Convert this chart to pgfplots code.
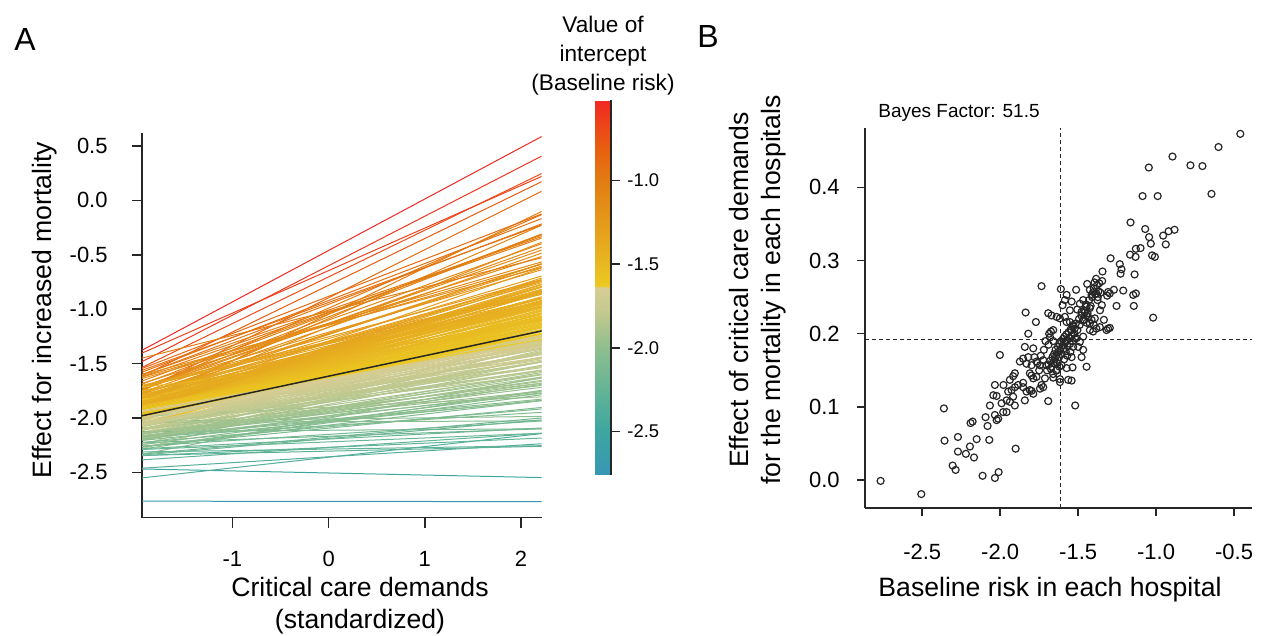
\documentclass[border=0pt]{standalone}
\usepackage{fontspec}
\setmainfont{Liberation Sans}
\usepackage{pgfplots}
\usepackage{pgfplotstable}
\pgfplotsset{compat=1.18}

% one row per hospital: intercept a (baseline risk), slope b (effect of demands)
\pgfplotstableread[row sep=\\]{
a b\\
-0.46 0.473\\ -0.60 0.455\\ -0.895 0.442\\ -1.047 0.427\\ -0.78 0.430\\ -0.703 0.429\\
-1.087 0.388\\ -0.99 0.388\\ -0.645 0.391\\ -1.164 0.352\\ -1.07 0.343\\ -1.045 0.332\\
-0.955 0.334\\ -0.92 0.340\\ -0.882 0.342\\ -0.938 0.322\\ -1.034 0.323\\ -1.10 0.317\\
-1.13 0.316\\ -1.167 0.308\\ -1.132 0.305\\ -1.026 0.307\\ -1.008 0.305\\ -1.292 0.303\\
-1.233 0.295\\ -1.222 0.288\\ -1.228 0.282\\ -1.138 0.281\\ -1.344 0.285\\ -1.346 0.272\\
-1.365 0.269\\ -1.442 0.268\\ -1.513 0.260\\ -1.611 0.261\\ -1.735 0.265\\ -1.425 0.260\\
-1.404 0.257\\ -1.383 0.255\\ -1.414 0.253\\ -1.308 0.257\\ -1.297 0.255\\ -1.271 0.260\\
-1.211 0.259\\ -1.130 0.255\\ -1.143 0.238\\ -1.019 0.222\\ -1.374 0.250\\ -1.357 0.256\\
-1.314 0.252\\ -1.254 0.238\\ -1.147 0.253\\ -1.542 0.244\\ -1.489 0.241\\ -1.468 0.246\\
-1.446 0.237\\ -1.425 0.235\\ -1.506 0.233\\ -1.478 0.230\\ -1.457 0.229\\ -1.446 0.225\\
-1.436 0.223\\ -1.463 0.219\\ -1.446 0.215\\ -1.425 0.214\\ -1.414 0.219\\ -1.399 0.212\\
-1.425 0.205\\ -1.404 0.203\\ -1.383 0.207\\ -1.361 0.209\\ -1.308 0.207\\ -1.318 0.205\\
-1.297 0.208\\ -1.837 0.229\\ -1.771 0.216\\ -1.692 0.228\\ -1.671 0.225\\ -1.638 0.223\\
-1.617 0.221\\ -1.585 0.223\\ -1.574 0.216\\ -1.553 0.216\\ -1.532 0.212\\ -1.522 0.207\\
-1.542 0.205\\ -1.82 0.200\\ -1.675 0.203\\ -1.660 0.205\\ -1.686 0.200\\ -1.51 0.194\\
-1.489 0.189\\ -1.468 0.196\\ -1.50 0.182\\ -1.468 0.178\\ -1.532 0.182\\ -1.478 0.168\\
-1.542 0.168\\ -1.446 0.155\\ -1.574 0.153\\ -1.536 0.154\\ -2.002 0.171\\ -1.842 0.182\\
-1.788 0.180\\ -1.82 0.168\\ -1.853 0.166\\ -1.874 0.162\\ -1.831 0.159\\ -1.799 0.157\\
-1.767 0.162\\ -1.745 0.157\\ -1.724 0.164\\ -1.703 0.157\\ -1.671 0.155\\ -1.649 0.159\\
-1.638 0.150\\ -1.606 0.157\\ -1.799 0.143\\ -1.788 0.139\\ -1.767 0.141\\ -1.713 0.139\\
-1.660 0.140\\ -1.617 0.138\\ -1.617 0.134\\ -1.917 0.142\\ -1.938 0.137\\ -2.034 0.130\\
-1.979 0.130\\ -1.906 0.127\\ -1.853 0.127\\ -1.81 0.123\\ -1.788 0.118\\ -1.745 0.125\\
-1.724 0.127\\ -2.767 -0.001\\ -2.506 -0.019\\ -2.361 0.098\\ -2.357 0.054\\ -2.271 0.059\\
-2.271 0.039\\ -2.22 0.036\\ -2.194 0.046\\ -2.151 0.056\\ -2.168 0.031\\ -2.305 0.020\\
-2.286 0.014\\ -2.113 0.006\\ -2.034 0.003\\ -2.01 0.011\\ -1.901 0.043\\ -2.07 0.055\\
-2.081 0.074\\ -2.094 0.086\\ -2.19 0.078\\ -2.177 0.080\\ -2.066 0.102\\ -2.044 0.116\\
-2.023 0.115\\ -2.034 0.089\\ -2.013 0.084\\ -2.023 0.082\\ -1.991 0.105\\ -1.981 0.093\\
-1.959 0.093\\ -1.949 0.121\\ -1.927 0.123\\ -1.917 0.114\\ -1.906 0.102\\ -1.959 0.109\\
-1.938 0.107\\ -1.906 0.146\\ -1.885 0.130\\ -1.853 0.133\\ -1.831 0.121\\ -1.842 0.109\\
-1.799 0.122\\ -1.81 0.146\\ -1.735 0.130\\ -1.692 0.108\\ -1.519 0.102\\ -1.564 0.137\\
-1.542 0.136\\ -1.585 0.246\\ -1.553 0.232\\ -1.60 0.239\\ -1.574 0.253\\ -1.376 0.246\\
-1.36 0.232\\ -1.393 0.221\\ -1.335 0.219\\ -1.348 0.239\\
-1.70 0.150\\ -1.69 0.158\\ -1.68 0.163\\ -1.675 0.152\\ -1.665 0.168\\ -1.66 0.160\\
-1.655 0.172\\ -1.65 0.165\\ -1.645 0.178\\ -1.64 0.170\\ -1.635 0.160\\ -1.63 0.182\\
-1.628 0.175\\ -1.622 0.168\\ -1.618 0.186\\ -1.615 0.178\\ -1.61 0.190\\ -1.607 0.172\\
-1.60 0.184\\ -1.597 0.193\\ -1.592 0.180\\ -1.588 0.196\\ -1.585 0.188\\ -1.58 0.176\\
-1.576 0.199\\ -1.572 0.190\\ -1.568 0.183\\ -1.562 0.202\\ -1.558 0.194\\ -1.552 0.186\\
-1.548 0.206\\ -1.542 0.198\\ -1.536 0.190\\ -1.53 0.210\\ -1.525 0.200\\ -1.52 0.194\\
-1.515 0.214\\ -1.505 0.205\\ -1.495 0.220\\ -1.49 0.212\\ -1.48 0.225\\ -1.47 0.218\\
-1.46 0.232\\ -1.45 0.240\\ -1.44 0.228\\ -1.43 0.246\\ -1.42 0.238\\ -1.41 0.250\\
-1.40 0.262\\ -1.39 0.254\\ -1.38 0.266\\ -1.37 0.258\\ -1.395 0.270\\ -1.385 0.275\\
-1.72 0.178\\ -1.74 0.170\\ -1.71 0.190\\ -1.69 0.185\\ -1.68 0.195\\ -1.66 0.190\\
-1.66 0.145\\ -1.64 0.150\\ -1.62 0.155\\ -1.75 0.150\\ -1.76 0.160\\ -1.78 0.168\\
-1.59 0.165\\ -1.57 0.170\\ -1.55 0.175\\
}\hosp

\pgfplotsset{
  colormap={baseline}{
    rgb255(0cm)=(56,150,180); rgb255(2.6cm)=(62,166,160); rgb255(5.1cm)=(100,180,150);
    rgb255(7.6cm)=(142,190,142); rgb255(9.6cm)=(192,201,142); rgb255(11.2cm)=(216,205,148);
    rgb255(11.3cm)=(236,202,32); rgb255(12.6cm)=(232,184,34); rgb255(15.1cm)=(228,154,26);
    rgb255(17.6cm)=(226,124,18); rgb255(19.6cm)=(232,94,16); rgb255(22.4cm)=(240,40,34)},
  /pgf/number format/assume math mode=true,
  every axis/.append style={axis line style={-, line width=0.75pt, black!85},
    tick style={line width=0.75pt, black!85}, tick align=outside},
}
\newcommand{\tickfont}{\fontsize{11}{13}\selectfont}
\newcommand{\labfont}{\fontsize{13.3}{16}\selectfont}

\begin{document}
\begin{tikzpicture}
\path[use as bounding box] (0,0) rectangle (634pt,318pt);

% panel A: one line per hospital, coloured by its intercept
\begin{axis}[
  at={(71pt,59.15pt)}, anchor=south west, scale only axis,
  width=199.85pt, height=192.35pt,
  xmin=-1.94, xmax=2.215, ymin=-2.917, ymax=0.62,
  axis x line*=bottom, axis y line*=left,
  major tick length=5pt,
  xtick={-1,0,1,2}, ytick={-2.5,-2,-1.5,-1,-0.5,0,0.5},
  xticklabel style={font=\tickfont, inner sep=0pt, anchor=north, yshift=-11.5pt},
  yticklabel style={font=\tickfont, inner sep=0pt, anchor=east, xshift=-12pt,
    /pgf/number format/.cd, fixed, fixed zerofill, precision=1},
  colormap name=baseline, point meta min=-2.76, point meta max=-0.52,
  colorbar,
  colorbar style={
    at={(parent axis.north east)}, anchor=north west,
    xshift=18.15pt, yshift=16.5pt, scale only axis,
    width=8pt, height=187.5pt,
    axis x line=none, axis y line*=right,
    major tick length=4.5pt,
    ytick={-2.5,-2,-1.5,-1},
    yticklabel style={font=\fontsize{9.2}{11}\selectfont, inner sep=0pt,
      anchor=west, xshift=3.5pt,
      /pgf/number format/.cd, fixed, fixed zerofill, precision=1},
  },
]
\addplot[point meta=\thisrow{a},
  quiver={u=4.155, v=4.155*\thisrow{b}, colored=mapped color,
    every arrow/.append style={line width=0.5pt}}]
  table[x expr=-1.94, y expr=\thisrow{a}-1.94*\thisrow{b}] {\hosp};
\addplot[black!85, line width=0.75pt] coordinates {(-1.94,-1.98) (2.215,-1.20)};
\end{axis}

% panel B: slope against intercept
\begin{axis}[
  at={(432.5pt,64pt)}, anchor=south west, scale only axis,
  width=193.5pt, height=190pt,
  xmin=-2.867, xmax=-0.385, ymin=-0.038, ymax=0.481,
  axis x line*=bottom, axis y line*=left,
  major tick length=4pt,
  xtick={-2.5,-2,-1.5,-1,-0.5}, ytick={0,0.1,0.2,0.3,0.4},
  xticklabel style={font=\tickfont, inner sep=0pt, anchor=north, yshift=-14pt,
    /pgf/number format/.cd, fixed, fixed zerofill, precision=1},
  yticklabel style={font=\tickfont, inner sep=0pt, anchor=east, xshift=-8.5pt,
    /pgf/number format/.cd, fixed, fixed zerofill, precision=1},
]
\addplot[black!85, line width=0.5pt, dash pattern=on 2pt off 1.5pt]
  coordinates {(-1.611,-0.038) (-1.611,0.481)};
\addplot[black!85, line width=0.5pt, dash pattern=on 2pt off 1.5pt]
  coordinates {(-2.867,0.192) (-0.385,0.192)};
\addplot[only marks, mark=o, mark size=1.75pt,
  mark options={line width=0.6pt, black!85}] table[x=a, y=b] {\hosp};
\end{axis}

\node[font=\fontsize{16}{19}\selectfont] at (12.5pt,298pt) {A};
\node[font=\fontsize{16}{19}\selectfont] at (354pt,299.5pt) {B};
\node[font=\fontsize{11.3}{14.5}\selectfont, align=center] at (301.5pt,290pt)
  {Value of\\intercept\\(Baseline risk)};
\node[font=\labfont, rotate=90] at (22.5pt,163pt) {Effect for increased mortality};
\node[font=\labfont, align=center] at (180pt,15pt) {Critical care demands\\(standardized)};
\node[font=\labfont, rotate=90, align=center] at (379pt,173pt)
  {Effect of critical care demands\\for the mortality in each hospitals};
\node[font=\labfont] at (525pt,23pt) {Baseline risk in each hospital};
\node[font=\fontsize{9.5}{11}\selectfont, anchor=west, inner sep=0pt] at (439pt,261.5pt) {Bayes Factor: 51.5};
\end{tikzpicture}
\end{document}
